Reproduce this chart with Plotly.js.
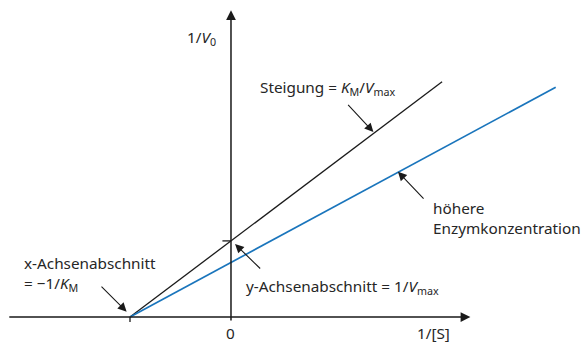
<!DOCTYPE html>
<html>
<head>
<meta charset="utf-8">
<script src="https://cdn.plot.ly/plotly-3.0.1.min.js"></script>
<style>html,body{margin:0;padding:0;background:#fff;}#chart{width:585px;height:342px;}</style>
</head>
<body>
<div id="chart"></div>
<script>
// Lineweaver-Burk plot (units: x in 1/K_M, y in 1/V_max)
const xIntercept = -1;            // -1/K_M
const blackX = [-1, 2.09];
const blackY = [0, 3.09];         // slope K_M/V_max
const blueX = [-1, 3.215];
const blueY = [0, 3.02];          // higher enzyme concentration
const yIntercept = 1;             // 1/V_max

const textColor = '#262626';
const font = {family: 'Noto Sans, sans-serif', size: 15.3, color: textColor};

const traces = [
  {x: blackX, y: blackY, mode: 'lines', line: {color: '#1a1a1a', width: 1.3}, hoverinfo: 'skip'},
  {x: blueX, y: blueY, mode: 'lines', line: {color: '#1a75bc', width: 1.7}, hoverinfo: 'skip'}
];

function arrow(tx, ty, hx, hy, w, s) {
  return {x: hx, y: hy, ax: tx, ay: ty, xref: 'x', yref: 'y', axref: 'x', ayref: 'y',
    text: '', showarrow: true, arrowhead: 2, arrowsize: s || 1.6, arrowwidth: w || 1.1,
    arrowcolor: '#1a1a1a', standoff: 0, startstandoff: 0};
}
function label(x, y, text, xanchor) {
  return {x: x, y: y, xref: 'x', yref: 'y', text: text, showarrow: false,
    xanchor: xanchor || 'left', yanchor: 'middle', align: 'left', font: font};
}

const annotations = [
  arrow(-2.21, 0, 2.37, 0, 1.5, 1.3),
  arrow(0, -0.066, 0, 4.03, 1.5, 1.3),
  arrow(1.146, 2.808, 1.41, 2.43),
  arrow(1.921, 1.537, 1.653, 1.909),
  arrow(-1.297, 0.420, -1.033, 0.070),
  arrow(0.304, 0.618, 0.040, 0.959),
  label(-0.129, 3.666, '1/<i>V</i><sub>0</sub>', 'right'),
  label(0.267, 3.009, 'Steigung = <i>K</i><sub>M</sub>/<i>V</i><sub>max</sub>'),
  label(1.98, 1.301, 'höhere<br>Enzymkonzentration'),
  label(-2.069, 0.565, 'x-Achsenabschnitt<br>= −1/<i>K</i><sub>M</sub>'),
  label(0.129, 0.394, 'y-Achsenabschnitt = 1/<i>V</i><sub>max</sub>'),
  label(0, -0.215, '0', 'center'),
  label(2.007, -0.215, '1/[S]', 'center')
];

const shapes = [
  {type: 'line', xref: 'x', yref: 'y', x0: xIntercept, x1: xIntercept, y0: 0, y1: -0.066, line: {color: '#1a1a1a', width: 1.3}},
  {type: 'line', xref: 'x', yref: 'y', x0: -0.085, x1: 0, y0: yIntercept, y1: yIntercept, line: {color: '#1a1a1a', width: 1.3}}
];

const layout = {
  width: 585, height: 342,
  margin: {l: 0, r: 0, t: 0, b: 0},
  paper_bgcolor: '#fff', plot_bgcolor: '#fff',
  showlegend: false,
  xaxis: {range: [-2.287, 3.505], visible: false, fixedrange: true},
  yaxis: {range: [-0.3285, 4.1656], visible: false, fixedrange: true},
  annotations: annotations,
  shapes: shapes
};

Plotly.newPlot('chart', traces, layout, {staticPlot: true, displayModeBar: false});
</script>
</body>
</html>
